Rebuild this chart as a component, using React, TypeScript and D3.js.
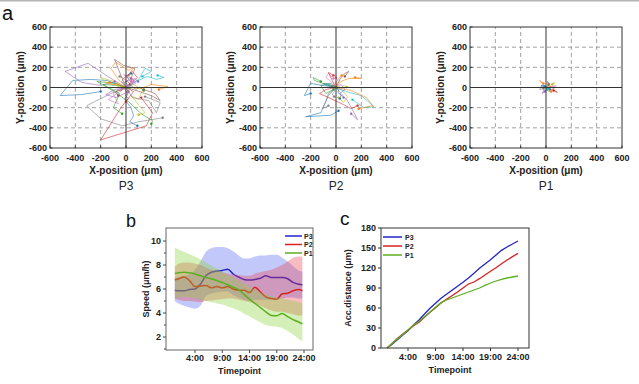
import React from "react";
import * as d3 from "d3";

const W = 639;
const H = 384;
const FONT = "'Liberation Sans', Arial, sans-serif";

// ---- panel a: cell trajectories (μm) ----
const posTicks = [-600, -400, -200, 0, 200, 400, 600];
const gridTicks = [-400, -200, 200, 400];

const p3Tracks: [number, number][][] = [
  [[0, 0], [20, -50], [-10, -120], [40, -200], [60, -280], [30, -340], [90, -380]],
  [[0, 0], [-60, 80], [-120, 190], [-80, 250], [20, 170], [60, 200], [20, 120]],
  [[0, 0], [-80, 40], [-230, 60], [-120, -20], [20, -140], [120, -260], [210, -330], [200, -360]],
  [[0, 0], [60, -40], [-40, -200], [-200, -520], [160, -380], [210, -250], [120, -100]],
  [[0, 0], [-120, 90], [-300, 240], [-480, 160], [-350, 50], [-200, 20], [-90, 60]],
  [[0, 0], [-40, 120], [-90, 280], [-20, 220], [70, 190], [40, 90]],
  [[0, 0], [-50, -40], [-140, -120], [-60, -160], [-100, -60], [-30, -10]],
  [[0, 0], [-120, -60], [-310, -180], [-200, -310], [-30, -380], [100, -340], [290, -300]],
  [[0, 0], [60, 30], [130, -20], [100, -120], [40, -80], [150, -250], [100, -270]],
  [[0, 0], [80, 60], [170, 110], [240, 80], [300, 100], [250, 120]],
  [[0, 0], [-150, 70], [-280, 80], [-420, 70], [-520, -80], [-350, -70], [-200, -40]],
  [[0, 0], [120, -10], [200, 30], [330, 10], [260, -20]],
  [[0, 0], [-60, 20], [-180, 30], [-50, -60], [-100, -200], [-30, -260]],
  [[0, 0], [30, 40], [-20, 90], [50, 160], [90, 100], [30, 30]],
  [[0, 0], [-90, -20], [-160, -70], [-80, -100], [20, -40]],
  [[0, 0], [80, -30], [200, -80], [270, -130], [230, -60], [140, -20]],
  [[0, 0], [-30, 50], [60, 80], [-20, 130], [40, 60]],
  [[0, 0], [50, -100], [180, -130], [240, -250], [270, -150], [150, -90]],
  [[0, 0], [-100, 60], [-200, 100], [-150, 40], [-60, 20]],
  [[0, 0], [100, 80], [150, 190], [200, 160], [130, 110]],
  [[0, 0], [15, 30], [-10, 50], [25, 80], [5, 110], [40, 140]],
  [[0, 0], [-20, 20], [-45, 10], [-70, 40], [-100, 25], [-130, 50]],
  [[0, 0], [25, -15], [50, 10], [80, -20], [110, 5], [140, -30]],
  [[0, 0], [-10, -25], [15, -50], [-5, -80], [20, -110], [0, -140]],
  [[0, 0], [30, 20], [55, 45], [40, 70], [70, 90], [95, 60]],
  [[0, 0], [-25, -10], [-40, -35], [-65, -20], [-80, -50], [-60, -80]],
  [[0, 0], [10, 15], [35, 5], [50, 30], [80, 40], [60, 65]],
  [[0, 0], [-15, 35], [-35, 60], [-20, 90], [-50, 110]],
];

const p2Tracks: [number, number][][] = [
  [[0, 0], [-60, -80], [-120, -250], [-240, -290], [-40, -275], [20, -230]],
  [[0, 0], [40, 60], [100, 90], [200, 90], [150, 100]],
  [[0, 0], [-40, 40], [-120, 20], [-80, -60], [-20, -20]],
  [[0, 0], [-80, -20], [-130, -60], [-40, -110], [60, -170], [120, -210], [170, -180]],
  [[0, 0], [40, -60], [90, -130], [130, -220], [170, -320], [120, -260]],
  [[0, 0], [30, 80], [60, 130], [100, 160], [70, 110]],
  [[0, 0], [-30, 50], [-80, 100], [-60, 140], [-20, 90]],
  [[0, 0], [-60, -60], [-80, -140], [-110, -210], [-60, -180]],
  [[0, 0], [50, -30], [90, -90], [60, -150], [20, -100]],
  [[0, 0], [80, -40], [200, -80], [300, -190], [220, -200], [130, -120]],
  [[0, 0], [-100, 20], [-200, 40], [-250, -80], [-200, -60]],
  [[0, 0], [120, -30], [240, -100], [290, -180], [180, -210]],
  [[0, 0], [-80, 30], [-170, 70], [-180, 100], [-120, 60]],
  [[0, 0], [-30, 70], [-60, 150], [-20, 120]],
  [[0, 0], [40, 30], [70, -20], [30, -60], [60, -100]],
  [[0, 0], [-50, 30], [-100, 40], [-30, 10]],
  [[0, 0], [10, 25], [-10, 45], [15, 70], [0, 100]],
  [[0, 0], [-20, -15], [-10, -40], [-30, -65], [-15, -90]],
  [[0, 0], [25, 10], [45, -10], [60, 20], [85, 5]],
  [[0, 0], [-15, 20], [-40, 15], [-55, 40], [-75, 30]],
  [[0, 0], [20, -20], [15, -50], [40, -75], [30, -110]],
  [[0, 0], [5, 40], [30, 60], [20, 90], [45, 120]],
];

const p1Tracks: [number, number][][] = [
  [[0, 0], [20, 20], [40, 10], [30, -20]],
  [[0, 0], [-30, 40], [-50, 70], [-20, 40]],
  [[0, 0], [20, -20], [-10, -40], [10, -10]],
  [[0, 0], [40, -20], [70, -30], [90, -50], [60, -30]],
  [[0, 0], [-20, -30], [-30, -60], [-10, -40]],
  [[0, 0], [30, 40], [10, 60], [20, 30]],
  [[0, 0], [50, 10], [80, 20], [60, 0]],
  [[0, 0], [-40, 10], [-50, -20], [-20, -10]],
  [[0, 0], [40, 30], [70, 50], [50, 30]],
  [[0, 0], [10, -30], [30, -40], [20, -10]],
  [[0, 0], [-20, 20], [-40, 20], [-10, 10]],
  [[0, 0], [30, 10], [60, -10], [40, -40]],
];

// ---- panel b: speed (μm/h) ----
const speedHours = [0.3, 1, 2, 3, 4, 5, 6, 7, 8, 9, 10, 11, 12, 13, 14, 15, 16, 17, 18, 19, 20, 21, 22, 23, 23.7];
const speedP3 = [5.9, 5.85, 5.85, 5.95, 6.0, 6.4, 7.1, 7.4, 7.5, 7.55, 7.65, 7.25, 7.0, 6.8, 6.75, 6.8, 6.9, 7.1, 6.95, 6.95, 6.95, 6.85, 6.55, 6.4, 6.35];
const speedP2 = [6.75, 6.85, 7.0, 6.7, 6.2, 6.25, 6.3, 6.1, 6.2, 6.1, 6.2, 6.0, 5.9, 5.9, 5.7, 6.15, 5.75, 5.35, 5.2, 5.15, 5.6, 5.65, 5.85, 5.95, 5.85];
const speedP1 = [7.3, 7.35, 7.4, 7.35, 7.25, 7.1, 6.95, 6.85, 6.7, 6.55, 6.35, 6.15, 5.95, 5.55, 5.15, 4.8, 4.45, 4.1, 3.8, 3.78, 3.95, 3.7, 3.45, 3.25, 3.1];
const upperP3 = [6.9, 7.0, 7.1, 7.2, 7.6, 8.3, 9.1, 9.4, 9.5, 9.5, 9.4, 9.15, 8.8, 8.55, 8.55, 8.7, 8.8, 8.8, 8.85, 8.85, 8.6, 8.3, 7.9, 7.55, 7.45];
const lowerP3 = [4.95, 4.8, 4.6, 4.45, 4.35, 4.6, 5.4, 5.6, 5.7, 5.8, 5.8, 5.5, 5.3, 5.1, 5.0, 5.1, 5.1, 5.1, 5.1, 5.1, 5.2, 5.3, 5.3, 5.2, 5.2];
const upperP2 = [7.85, 8.1, 8.2, 8.2, 8.1, 8.0, 7.8, 7.6, 7.5, 7.4, 7.3, 7.2, 7.15, 7.1, 7.1, 7.3, 7.4, 7.5, 7.6, 7.8, 8.0, 8.3, 8.6, 8.7, 8.7];
const lowerP2 = [5.2, 5.1, 5.0, 5.0, 4.95, 4.9, 5.0, 5.05, 5.1, 5.15, 5.2, 5.2, 5.1, 5.0, 4.9, 4.8, 4.6, 4.4, 4.2, 4.1, 4.1, 4.0, 3.9, 3.8, 3.8];
const upperP1 = [9.45, 9.3, 9.1, 8.9, 8.7, 8.45, 8.2, 7.95, 7.7, 7.45, 7.2, 6.95, 6.7, 6.45, 6.2, 5.95, 5.75, 5.55, 5.4, 5.3, 5.2, 5.1, 5.0, 4.9, 4.85];
const lowerP1 = [5.2, 5.3, 5.35, 5.3, 5.2, 5.1, 5.0, 4.9, 4.8, 4.7, 4.55, 4.4, 4.2, 3.95, 3.7, 3.45, 3.2, 3.0, 2.9, 2.85, 2.75, 2.5, 2.2, 1.85, 1.65];

// ---- panel c: accumulated distance (μm) ----
const accHours = [0.2, 1, 2, 3, 4, 5, 6, 7, 8, 9, 10, 11, 12, 13, 14, 15, 16, 17, 18, 19, 20, 21, 22, 23, 24];
const accP3 = [0, 5, 12, 19, 26, 34.5, 42, 51, 59.5, 67, 74.5, 80.5, 86.5, 92.5, 98.5, 105, 112, 119.5, 126, 132.5, 139.5, 146.5, 151.5, 156, 160.5];
const accP2 = [0, 6, 14, 20.5, 27, 33.5, 38.5, 46, 53.5, 60.5, 67.5, 73, 78.5, 84, 90, 96, 99, 104, 109.5, 115, 120.5, 126.5, 132, 137, 142];
const accP1 = [0, 6, 13, 20, 27, 34.5, 40, 47, 54, 61, 68, 72, 75, 78, 81, 84, 87, 90, 94, 97.5, 100.5, 103, 105, 106.5, 108];

const timeTicks = [4, 9, 14, 19, 24];
const timeLabels = ["4:00", "9:00", "14:00", "19:00", "24:00"];
const speedTicks = [2, 4, 6, 8, 10];
const accTicks = [0, 30, 60, 90, 120, 150, 180];

const groups = ["P3", "P2", "P1"];
const lineColors = ["#2323c8", "#d82222", "#5cae22"];
const bandColors = ["#5060f0", "#e8404a", "#83d333"];

const TrackPanel = ({ left, tracks, label }: { left: number; tracks: [number, number][][]; label: string }) => {
  const x = d3.scaleLinear().domain([-600, 600]).range([left, left + 152]);
  const y = d3.scaleLinear().domain([-600, 600]).range([148, 27]);
  const line = d3.line<[number, number]>().x((d) => x(d[0])).y((d) => y(d[1]));
  const cx = (x(-600) + x(600)) / 2;
  return (
    <g>
      {gridTicks.map((t) => (
        <g key={t}>
          <line x1={x(t)} x2={x(t)} y1={y(-600)} y2={y(600)} stroke="#8a8a8a" strokeWidth={0.8} strokeDasharray="4,3" />
          <line x1={x(-600)} x2={x(600)} y1={y(t)} y2={y(t)} stroke="#8a8a8a" strokeWidth={0.8} strokeDasharray="4,3" />
        </g>
      ))}
      {tracks.map((tr, i) => (
        <g key={i}>
          <path d={line(tr) || ""} fill="none" stroke={d3.schemeCategory10[i % 10]} strokeWidth={0.8} strokeOpacity={0.75} />
          <circle cx={x(tr[tr.length - 1][0])} cy={y(tr[tr.length - 1][1])} r={1.2} fill={d3.schemeCategory10[i % 10]} />
        </g>
      ))}
      <line x1={x(0)} x2={x(0)} y1={y(-600)} y2={y(600)} stroke="#333" strokeWidth={1} />
      <line x1={x(-600)} x2={x(600)} y1={y(0)} y2={y(0)} stroke="#333" strokeWidth={1} />
      <rect x={x(-600)} y={y(600)} width={x(600) - x(-600)} height={y(-600) - y(600)} fill="none" stroke="#333" strokeWidth={1} />
      {posTicks.map((t) => (
        <g key={t}>
          <line x1={x(t)} x2={x(t)} y1={y(-600)} y2={y(-600) - 2.5} stroke="#333" />
          <line x1={x(-600)} x2={x(-600) + 2.5} y1={y(t)} y2={y(t)} stroke="#333" />
          <text x={x(t)} y={160.5} textAnchor="middle" fontSize={9} fontWeight="bold" fill="#222">{t}</text>
          <text x={left - 3} y={y(t) + 3.2} textAnchor="end" fontSize={9} fontWeight="bold" fill="#222">{t}</text>
        </g>
      ))}
      <text x={cx} y={173.5} textAnchor="middle" fontSize={10} fontWeight="bold" fill="#222">X-position (μm)</text>
      <text transform={`translate(${left - 26},${(y(600) + y(-600)) / 2}) rotate(-90)`} textAnchor="middle" fontSize={10} fontWeight="bold" fill="#222">Y-position (μm)</text>
      <text x={cx} y={190} textAnchor="middle" fontSize={12} fill="#222">{label}</text>
    </g>
  );
};

const SpeedPanel = () => {
  const x = d3.scaleLinear().domain([4, 24]).range([195, 304]);
  const y = d3.scaleLinear().domain([2, 10]).range([337, 241]);
  const series = [
    { m: speedP3, lo: lowerP3, hi: upperP3 },
    { m: speedP2, lo: lowerP2, hi: upperP2 },
    { m: speedP1, lo: lowerP1, hi: upperP1 },
  ];
  const left = 166, right = 313, top = 228, bottom = 350;
  return (
    <g>
      {series.map((s, i) => {
        const area = d3.area<number>().x((_, k) => x(speedHours[k])).y0((_, k) => y(s.lo[k])).y1((_, k) => y(s.hi[k])).curve(d3.curveMonotoneX);
        const line = d3.line<number>().x((_, k) => x(speedHours[k])).y((d) => y(d)).curve(d3.curveMonotoneX);
        return (
          <g key={i}>
            <path d={area(s.m) || ""} fill={bandColors[i]} fillOpacity={0.35} />
            <path d={line(s.m) || ""} fill="none" stroke={lineColors[i]} strokeWidth={1.5} />
          </g>
        );
      })}
      <rect x={left} y={top} width={right - left} height={bottom - top} fill="none" stroke="#666" strokeWidth={1} />
      {speedTicks.map((t) => (
        <g key={t}>
          <line x1={left} x2={left - 3} y1={y(t)} y2={y(t)} stroke="#444" />
          <line x1={left} x2={left - 2} y1={y(t - 1)} y2={y(t - 1)} stroke="#444" />
          <text x={left - 5} y={y(t) + 3.2} textAnchor="end" fontSize={9} fontWeight="bold" fill="#222">{t}</text>
        </g>
      ))}
      {timeTicks.map((t, i) => (
        <g key={t}>
          <line x1={x(t)} x2={x(t)} y1={bottom} y2={bottom + 3} stroke="#444" />
          <text x={x(t)} y={361} textAnchor="middle" fontSize={9} fontWeight="bold" fill="#222">{timeLabels[i]}</text>
        </g>
      ))}
      <text x={(left + right) / 2} y={374} textAnchor="middle" fontSize={9} fontWeight="bold" fill="#222">Timepoint</text>
      <text transform={`translate(149,${(top + bottom) / 2}) rotate(-90)`} textAnchor="middle" fontSize={9} fontWeight="bold" fill="#222">Speed (μm/h)</text>
      {groups.map((g, i) => (
        <g key={g}>
          <line x1={285} x2={302} y1={236 + i * 8.5} y2={236 + i * 8.5} stroke={lineColors[i]} strokeWidth={1.5} />
          <text x={304} y={238.5 + i * 8.5} fontSize={7} fontWeight="bold" fill="#222">{g}</text>
        </g>
      ))}
    </g>
  );
};

const DistancePanel = () => {
  const x = d3.scaleLinear().domain([4, 24]).range([408, 518]);
  const y = d3.scaleLinear().domain([0, 180]).range([348, 228]);
  const data = [accP3, accP2, accP1];
  const left = 381, right = 529, top = 228, bottom = 348;
  const line = d3.line<number>().x((_, k) => x(accHours[k])).y((d) => y(d));
  return (
    <g>
      {data.map((d, i) => (
        <path key={i} d={line(d) || ""} fill="none" stroke={lineColors[i]} strokeWidth={1.3} />
      ))}
      <rect x={left} y={top} width={right - left} height={bottom - top} fill="none" stroke="#333" strokeWidth={1} />
      {accTicks.map((t) => (
        <g key={t}>
          <line x1={left} x2={left - 3} y1={y(t)} y2={y(t)} stroke="#333" />
          <text x={left - 5} y={y(t) + 3.2} textAnchor="end" fontSize={9} fontWeight="bold" fill="#222">{t}</text>
        </g>
      ))}
      {timeTicks.map((t, i) => (
        <g key={t}>
          <line x1={x(t)} x2={x(t)} y1={bottom} y2={bottom + 3} stroke="#333" />
          <text x={x(t)} y={360} textAnchor="middle" fontSize={9} fontWeight="bold" fill="#222">{timeLabels[i]}</text>
        </g>
      ))}
      <text x={450} y={373} textAnchor="middle" fontSize={9} fontWeight="bold" fill="#222">Timepoint</text>
      <text transform={`translate(351,${(top + bottom) / 2}) rotate(-90)`} textAnchor="middle" fontSize={9} fontWeight="bold" fill="#222">Acc.distance (μm)</text>
      {groups.map((g, i) => (
        <g key={g}>
          <line x1={383} x2={402} y1={237 + i * 9} y2={237 + i * 9} stroke={lineColors[i]} strokeWidth={1.5} />
          <text x={405} y={239.5 + i * 9} fontSize={7} fontWeight="bold" fill="#222">{g}</text>
        </g>
      ))}
    </g>
  );
};

export default function App() {
  return (
    <svg width={W} height={H} style={{ position: "absolute", left: 0, top: 0, background: "#fff", fontFamily: FONT }}>
      <rect x={0} y={0} width={W} height={1.5} fill="#b5b5b5" />
      <text x={2} y={20} fontSize={20} fill="#111">a</text>
      <text x={126} y={227} fontSize={18} fill="#111">b</text>
      <text x={340} y={225} fontSize={19} fill="#111">c</text>
      <TrackPanel left={50} tracks={p3Tracks} label="P3" />
      <TrackPanel left={260} tracks={p2Tracks} label="P2" />
      <TrackPanel left={470} tracks={p1Tracks} label="P1" />
      <SpeedPanel />
      <DistancePanel />
    </svg>
  );
}
